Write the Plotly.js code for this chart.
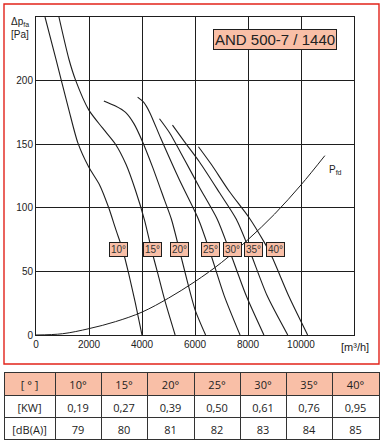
<!DOCTYPE html>
<html><head><meta charset="utf-8">
<script src="https://cdn.plot.ly/plotly-3.0.1.min.js"></script>
<style>html,body{margin:0;padding:0;background:#fff;}#chart{width:384px;height:443px;}</style>
</head><body><div id="chart"></div>
<script>
// ---- data ----
const angles = [10, 15, 20, 25, 30, 35, 40];
const kw = [0.19, 0.27, 0.39, 0.50, 0.61, 0.76, 0.95];
const dbA = [79, 80, 81, 82, 83, 84, 85];

const flow10 = [340, 750, 1240, 1580, 1990, 2400, 2745, 3010, 3270, 3500, 3750, 4000];
const pres10 = [250, 217, 177, 151, 132, 118, 100, 83, 67, 48, 25, 0];
const flow15 = [865, 1240, 1500, 1990, 2500, 3000, 3400, 3750, 4100, 4360, 4600, 4850, 5250];
const pres15 = [250, 217, 200, 177, 163, 150, 134, 114, 90, 67, 48, 28, 0];
const flow20 = [2560, 3000, 3380, 3700, 4020, 4400, 4850, 5110, 5410, 5700, 6000, 6400];
const pres20 = [184, 180, 175, 166, 152, 132, 106, 91, 67, 43, 20, 0];
const flow25 = [3835, 4060, 4290, 4700, 5410, 6130, 6540, 7100, 7700];
const pres25 = [187, 183, 175, 155, 122, 91, 67, 31, 0];
const flow30 = [4660, 5040, 5600, 6170, 6840, 7290, 7930, 8600];
const pres30 = [170, 159, 138, 116, 91, 67, 31, 0];
const flow35 = [5150, 5600, 6170, 6920, 7560, 8050, 8720, 9500];
const pres35 = [165, 152, 136, 112, 91, 67, 31, 0];
const flow40 = [6130, 6620, 7290, 8050, 8610, 8870, 9550, 10250];
const pres40 = [148, 134, 113, 92, 73, 63, 30, 0];

const flowPd = [0, 1000, 2000, 3000, 4000, 5000, 6000, 7000, 8000, 9000, 10000, 10900];
const presPd = [0, 1, 5, 10.5, 18, 29, 42, 57, 75, 95, 118, 141];

const xTicks = [0, 2000, 4000, 6000, 8000, 10000];
const xTickText = ['0', '2000', '4000', '6000', '8000', '10000'];
const yTicks = [0, 50, 100, 150, 200];
const title = "AND 500-7 / 1440";
// --------------------------------------

const salmon = '#f9bfa7';
const ink = '#1e1e1e';
const fnt = 'Liberation Sans';

const flows = [flow10, flow15, flow20, flow25, flow30, flow35, flow40];
const press = [pres10, pres15, pres20, pres25, pres30, pres35, pres40];

const traces = flows.map((f, i) => ({
  type: 'scatter', mode: 'lines', x: f, y: press[i],
  line: {color: ink, width: 1.1, shape: 'spline', smoothing: 0.7},
  hoverinfo: 'skip', showlegend: false
}));
traces.push({type: 'scatter', mode: 'lines', x: flowPd, y: presPd,
  line: {color: ink, width: 1, shape: 'spline'}, hoverinfo: 'skip', showlegend: false});

const fmt = v => v.toFixed(2).replace('.', ',');
traces.push({
  type: 'table',
  domain: {x: [0, 1], y: [0, 0.1537]},
  columnwidth: [51, 46, 46, 47, 46, 46, 46, 47],
  header: {
    values: ['[ ° ]'].concat(angles.map(a => a + '°')),
    fill: {color: salmon}, line: {color: '#333', width: 1},
    align: 'center', height: 23,
    font: {family: 'Open Sans', size: 11, color: '#222'}
  },
  cells: {
    values: [['[KW]', '[dB(A)]']].concat(angles.map((a, i) => [fmt(kw[i]), String(dbA[i])])),
    fill: {color: '#ffffff'}, line: {color: '#333', width: 1},
    align: 'center', height: 22,
    font: {family: 'Open Sans', size: 11, color: '#222'}
  }
});

// paper helpers (paper = px 4..379 horizontally, 4..440 vertically)
const px = p => (p - 4) / 375;
const py = p => (440 - p) / 436;

const labelX = [3120, 4380, 5400, 6600, 7400, 8200, 9020];
const annotations = angles.map((a, i) => ({
  x: labelX[i], y: 67, xref: 'x', yref: 'y', xanchor: 'center', yanchor: 'middle',
  text: a + '°', showarrow: false,
  bgcolor: salmon, bordercolor: ink, borderwidth: 1, borderpad: 1,
  font: {family: fnt, size: 10, color: '#333'}
}));
annotations.push({x: px(275), y: py(39), xref: 'paper', yref: 'paper', xanchor: 'center', yanchor: 'middle',
  text: title, showarrow: false, bgcolor: salmon, bordercolor: ink, borderwidth: 1, borderpad: 1,
  font: {family: fnt, size: 15, color: '#222'}});
annotations.push({x: px(9), y: py(22), xref: 'paper', yref: 'paper', xanchor: 'left', yanchor: 'middle',
  text: 'Δp<sub>fa</sub>', showarrow: false, font: {family: fnt, size: 10, color: '#222'}});
annotations.push({x: px(9), y: py(34), xref: 'paper', yref: 'paper', xanchor: 'left', yanchor: 'middle',
  text: '[Pa]', showarrow: false, font: {family: fnt, size: 10, color: '#222'}});
annotations.push({x: px(355), y: py(347), xref: 'paper', yref: 'paper', xanchor: 'center', yanchor: 'middle',
  text: '[m³/h]', showarrow: false, font: {family: fnt, size: 11, color: '#222'}});
annotations.push({x: 11320, y: 130, xref: 'x', yref: 'y', xanchor: 'center', yanchor: 'middle',
  text: 'P<sub>fd</sub>', showarrow: false, font: {family: fnt, size: 10, color: '#222'}});

const layout = {
  width: 384, height: 443,
  margin: {l: 4, r: 5, t: 4, b: 3},
  paper_bgcolor: '#fff', plot_bgcolor: '#fff',
  showlegend: false,
  xaxis: {domain: [px(36), px(354)], range: [0, 12000], tickvals: xTicks, ticktext: xTickText,
    showgrid: true, gridcolor: ink, gridwidth: 1, zeroline: false,
    showline: true, linecolor: ink, linewidth: 1, mirror: true, ticks: '',
    tickfont: {family: fnt, size: 10, color: '#222'}, fixedrange: true},
  yaxis: {domain: [py(335), py(17)], range: [0, 250], tickvals: yTicks,
    showgrid: true, gridcolor: ink, gridwidth: 1, zeroline: false,
    showline: true, linecolor: ink, linewidth: 1, mirror: true, ticks: '',
    tickfont: {family: fnt, size: 10, color: '#222'}, fixedrange: true},
  shapes: [{type: 'rect', xref: 'paper', yref: 'paper', x0: 0, x1: 1, y0: py(364), y1: 1,
    line: {color: '#e2231a', width: 1.4}, layer: 'below'}],
  annotations: annotations
};

Plotly.newPlot('chart', traces, layout, {staticPlot: true, displayModeBar: false});
</script></body></html>
